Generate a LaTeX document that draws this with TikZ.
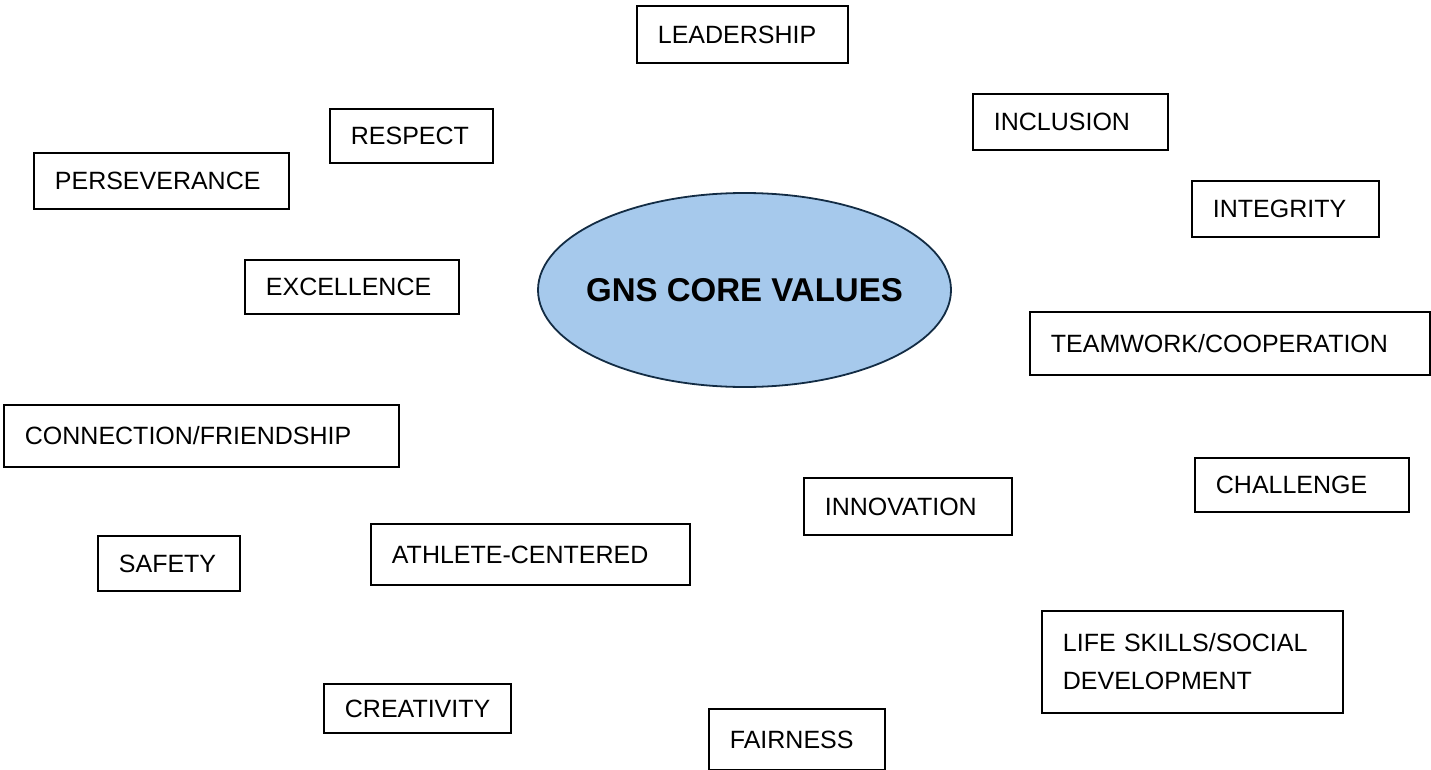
\documentclass[tikz,border=0pt]{standalone}
\usepackage{fontspec}
\setmainfont{Liberation Sans}
\usetikzlibrary{shapes.geometric}
\definecolor{corefill}{HTML}{A6C9EC}
\definecolor{coreline}{HTML}{132C44}
\tikzset{
  valuebox/.style={draw=black, line width=1.8pt, inner xsep=21pt, inner ysep=0pt,
    align=left, anchor=north west, font=\fontsize{25}{38}\selectfont},
  core/.style={ellipse, draw=coreline, fill=corefill, line width=1.8pt, inner sep=0pt},
  coretext/.style={inner sep=0pt, font=\fontsize{33}{40}\selectfont\bfseries}
}
\begin{document}
\begin{tikzpicture}[x=1pt,y=-1pt]
\useasboundingbox (0,0) rectangle (1431,770);
% central ellipse and its title
\node[core, minimum width=413pt, minimum height=194pt] (core) at (744.5,290) {};
\node[coretext] (coretitle) at (core.center) {GNS CORE VALUES};
% value boxes (top-left corner, width, height)
\node[valuebox, text width=169pt, minimum height=57pt] (lead)  at (636,5)    {LEADERSHIP};
\node[valuebox, text width=121pt, minimum height=54pt] (resp)  at (329,108)  {RESPECT};
\node[valuebox, text width=153pt, minimum height=56pt] (incl)  at (972,93)   {INCLUSION};
\node[valuebox, text width=213pt, minimum height=56pt] (pers)  at (33,152)   {PERSEVERANCE};
\node[valuebox, text width=145pt, minimum height=56pt] (integ) at (1191,180) {INTEGRITY};
\node[valuebox, text width=172pt, minimum height=54pt] (excel) at (244,259)  {EXCELLENCE};
\node[valuebox, text width=358pt, minimum height=63pt] (team)  at (1029,311) {TEAMWORK/COOPERATION};
\node[valuebox, text width=353pt, minimum height=62pt] (conn)  at (3,404)    {CONNECTION/FRIENDSHIP};
\node[valuebox, text width=172pt, minimum height=54pt] (chall) at (1194,457) {CHALLENGE};
\node[valuebox, text width=166pt, minimum height=57pt] (innov) at (803,477)  {INNOVATION};
\node[valuebox, text width=277pt, minimum height=61pt] (athl)  at (370,523)  {ATHLETE-CENTERED};
\node[valuebox, text width=100pt, minimum height=55pt] (safe)  at (97,535)   {SAFETY};
\node[valuebox, text width=259pt, minimum height=102pt] (life) at (1041,610) {LIFE SKILLS/SOCIAL\\DEVELOPMENT};
\node[valuebox, text width=145pt, minimum height=49pt] (creat) at (323,683)  {CREATIVITY};
\node[valuebox, text width=134pt, minimum height=61pt] (fair)  at (708,708)  {FAIRNESS};
\end{tikzpicture}
\end{document}
